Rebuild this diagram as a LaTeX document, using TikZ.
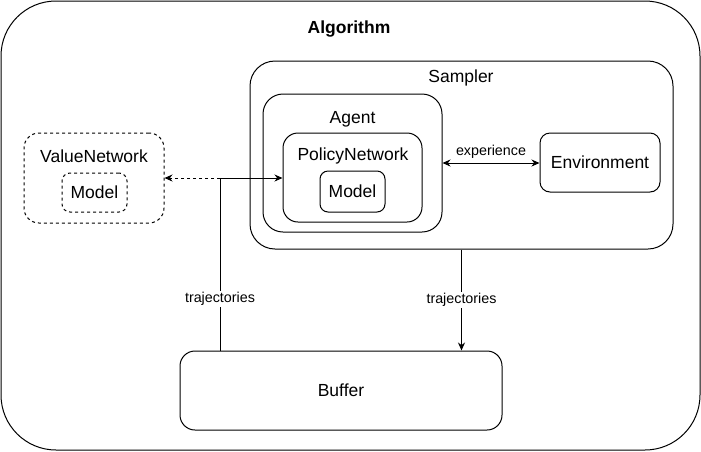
\documentclass[tikz,border=0pt]{standalone}
\usepackage{fontspec}
\setmainfont{Liberation Sans}
\usetikzlibrary{arrows.meta}
\tikzset{
  box/.style={draw, line width=1pt, inner sep=0pt, rounded corners=#1},
  box/.default=10pt,
  title/.style={font=\fontsize{17.5}{21}\selectfont, inner sep=0pt},
  small/.style={font=\fontsize{14.3}{17}\selectfont, inner sep=1.5pt},
  link/.style={line width=1pt, -{Stealth[length=8pt, width=7pt]}},
  dotted link/.style={link, dash pattern=on 3pt off 3pt}
}
\begin{document}
\begin{tikzpicture}[x=1pt, y=-1pt]
\useasboundingbox (0,0) rectangle (701,451);
% containers
\node[box=55pt, minimum width=699pt, minimum height=449pt] (algo) at (350.5,225.5) {};
\node[title, font=\fontsize{17.5}{21}\selectfont\bfseries] (algotitle) at (349,29) {Algorithm};
\node[box=25pt, minimum width=423pt, minimum height=188pt] (sampler) at (461.5,155) {};
\node[title] (samplertitle) at (461,77.5) {Sampler};
\node[box=20pt, minimum width=179pt, minimum height=138pt] (agent) at (352.5,163) {};
\node[title] (agenttitle) at (352.5,119.5) {Agent};
\node[box=15pt, minimum width=139pt, minimum height=89pt] (policy) at (352.5,177.5) {};
\node[title] (policytitle) at (353,156) {PolicyNetwork};
\node[box=8pt, minimum width=65pt, minimum height=41pt, title] (pmodel) at (352.5,191.5) {Model};
\node[box=10pt, minimum width=120pt, minimum height=59pt, title] (env) at (600,162.5) {Environment};
% value network
\node[box=15pt, dash pattern=on 3pt off 3pt, minimum width=140pt, minimum height=90pt] (value) at (94,178) {};
\node[title] (valuetitle) at (94,156) {ValueNetwork};
\node[box=8pt, dash pattern=on 3pt off 3pt, minimum width=65pt, minimum height=39pt, title] (vmodel) at (94.5,192.5) {Model};
% buffer
\node[box=15pt, minimum width=322pt, minimum height=79pt, title] (buffer) at (341,390.5) {Buffer};
% connectors
\coordinate (split) at (220,178);
\draw[link, {Stealth[length=8pt, width=7pt]}-{Stealth[length=8pt, width=7pt]}] (agent.east) -- node[small, above=3pt] {experience} (agent.east -| env.west);
\draw[link] (sampler.south) -- node[small, fill=white] {trajectories} (sampler.south |- buffer.north);
\draw[link] (buffer.north -| split) -- node[small, fill=white, pos=0.3] {trajectories} (split) -- (split -| policy.west);
\draw[dotted link] (split) -- (value.east);
\end{tikzpicture}
\end{document}
